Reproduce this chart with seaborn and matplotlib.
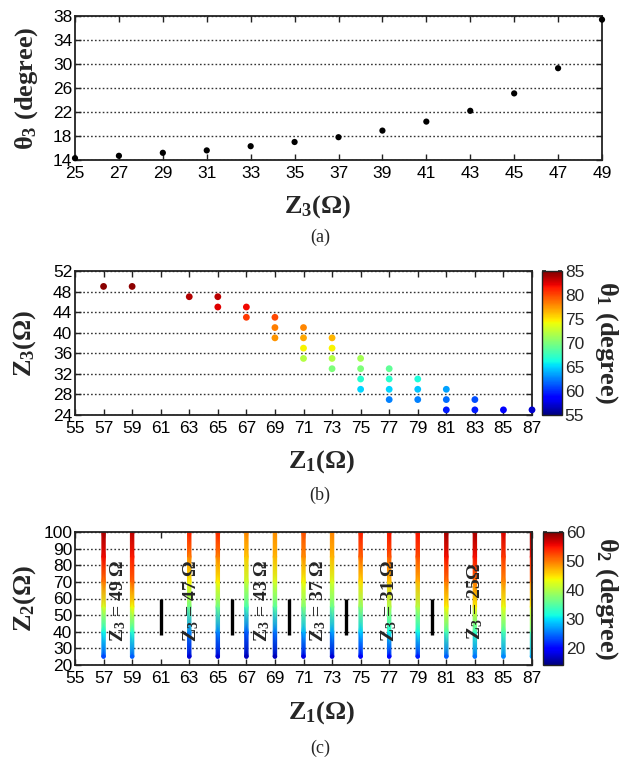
import numpy as np
import pandas as pd
import matplotlib
matplotlib.use("Agg")
import matplotlib.pyplot as plt
import seaborn as sns
from matplotlib.colors import Normalize
from matplotlib.cm import ScalarMappable

# ---------------- data ----------------
# panel (a)
z3_a = [25, 27, 29, 31, 33, 35, 37, 39, 41, 43, 45, 47, 49]
theta3_a = [14.3, 14.7, 15.2, 15.6, 16.3, 17.0, 17.8, 18.9, 20.4, 22.2, 25.1, 29.3, 37.4]

# panel (b)
z1_b = [57, 59, 63, 65, 65, 67, 67, 69, 69, 69, 71, 71, 71, 71, 73, 73, 73, 73,
        75, 75, 75, 75, 77, 77, 77, 77, 79, 79, 79, 81, 81, 81, 83, 83, 85, 87]
z3_b = [49, 49, 47, 47, 45, 45, 43, 43, 41, 39, 41, 39, 37, 35, 39, 37, 35, 33,
        35, 33, 31, 29, 33, 31, 29, 27, 31, 29, 27, 29, 27, 25, 27, 25, 25, 25]
theta1_b = [84.7, 84.6, 83.6, 83.4, 82.5, 82.0, 80.5, 80.0, 78.3, 77.5, 78.0, 77.0, 74.5, 72.0,
            76.5, 74.5, 72.0, 70.0, 71.5, 70.0, 67.0, 65.0, 69.0, 67.0, 65.0, 62.5,
            66.5, 64.5, 62.5, 63.5, 62.0, 59.5, 61.0, 59.5, 58.5, 57.0]

# panel (c)
z1_c = [57, 59, 63, 65, 67, 69, 71, 73, 75, 77, 79, 81, 83, 85, 87]
z2_c = [25, 40, 55, 70, 85, 100]
theta2_c = [
    [23.0, 31.0, 42.0, 50.0, 55.5, 58.5],   # 57
    [24.0, 32.5, 43.5, 51.0, 54.5, 57.5],   # 59
    [17.5, 26.0, 36.0, 44.0, 49.5, 54.5],   # 63
    [17.5, 26.0, 36.0, 44.0, 49.5, 54.0],   # 65
    [16.5, 24.0, 34.0, 41.0, 46.0, 49.5],   # 67
    [16.5, 25.0, 35.0, 42.0, 47.0, 49.0],   # 69
    [18.0, 28.0, 37.0, 43.5, 49.0, 52.0],   # 71
    [17.5, 27.0, 36.0, 42.0, 47.0, 49.5],   # 73
    [19.0, 29.0, 38.0, 45.0, 51.0, 54.5],   # 75
    [20.0, 31.0, 39.5, 46.0, 51.5, 55.0],   # 77
    [21.0, 31.0, 40.0, 47.0, 52.0, 55.0],   # 79
    [24.0, 34.0, 44.0, 50.0, 55.0, 58.7],   # 81
    [25.0, 33.0, 44.0, 50.0, 55.0, 58.4],   # 83
    [26.0, 34.0, 43.0, 49.0, 53.0, 56.5],   # 85
    [27.0, 35.0, 44.0, 50.0, 55.0, 60.0],   # 87
]
z3_group_labels = ["Z$_\\mathbf{3}$ = 49 Ω", "Z$_\\mathbf{3}$ = 47 Ω", "Z$_\\mathbf{3}$ = 43 Ω",
                   "Z$_\\mathbf{3}$ = 37 Ω", "Z$_\\mathbf{3}$ = 31 Ω", "Z$_\\mathbf{3}$ = 25Ω"]
separator_z1 = [61, 66, 70, 74, 80]

# ---------------- style ----------------
sns.set_theme(style="ticks")
plt.rcParams.update({
    "font.family": ["Liberation Sans", "DejaVu Sans"],
    "mathtext.fontset": "custom",
    "mathtext.rm": "Liberation Serif:bold",
    "mathtext.bf": "Liberation Serif:bold",
    "mathtext.it": "Liberation Serif:bold:italic",
    "axes.edgecolor": "#222222",
    "axes.linewidth": 1.2,
})
JET = matplotlib.colormaps["jet"]
SERIF = ["Liberation Serif", "DejaVu Serif"]
LAB = dict(family=SERIF, fontweight="bold", fontsize=19)
TICK_FS = 12.5

W, H = 626, 763
fig = plt.figure(figsize=(W / 100, H / 100), dpi=100)


def px_axes(l, t, r, b):
    return fig.add_axes([l / W, 1 - b / H, (r - l) / W, (b - t) / H])


def style_ax(ax):
    ax.tick_params(direction="in", top=True, right=True, length=4, width=1,
                   labelsize=TICK_FS, colors="#222222", labelcolor="black")
    ax.tick_params(axis="x", pad=4.5)
    ax.tick_params(axis="y", pad=2)
    ax.yaxis.grid(True, linestyle=(0, (1.2, 1.6)), color="#333333", linewidth=1.0)
    ax.xaxis.grid(False)
    ax.set_axisbelow(True)
    for s in ax.spines.values():
        s.set_visible(True)
        s.set_linewidth(1.3)


def style_cbar(cb):
    cb.ax.tick_params(direction="in", length=3, labelsize=TICK_FS, pad=2,
                      left=True, right=True)
    cb.outline.set_linewidth(1.0)


# ---------------- panel (a) ----------------
axa = px_axes(75, 16, 602, 160)
dfa = pd.DataFrame({"z3": z3_a, "theta3": theta3_a})
sns.scatterplot(data=dfa, x="z3", y="theta3", ax=axa, color="black", s=20,
                edgecolor="none", clip_on=False, zorder=3)
axa.set_xlim(25, 49)
axa.set_ylim(14, 38)
axa.set_xticks(range(25, 50, 2))
axa.set_yticks(range(14, 39, 4))
style_ax(axa)
axa.set_xlabel("Z$_\\mathbf{3}$(Ω)", **LAB)
axa.set_ylabel("θ$_\\mathbf{3}$ (degree)", **LAB)
axa.xaxis.set_label_coords(0.46, -0.23)
axa.yaxis.set_label_coords(-0.066, 0.5)
fig.text(320 / W, 1 - 237 / H, "(a)", family=SERIF, fontsize=13, ha="center", va="center")

# ---------------- panel (b) ----------------
axb = px_axes(75, 271, 532, 415)
normb = Normalize(55, 85)
dfb = pd.DataFrame({"z1": z1_b, "z3": z3_b, "theta1": theta1_b})
sns.scatterplot(data=dfb, x="z1", y="z3", hue="theta1", palette=JET, hue_norm=normb,
                ax=axb, s=24, edgecolor="none", legend=False, clip_on=False, zorder=3)
axb.set_xlim(55, 87)
axb.set_ylim(24, 52)
axb.set_xticks(range(55, 88, 2))
axb.set_yticks(range(24, 53, 4))
style_ax(axb)
axb.set_xlabel("Z$_\\mathbf{1}$(Ω)", **LAB)
axb.set_ylabel("Z$_\\mathbf{3}$(Ω)", **LAB)
axb.xaxis.set_label_coords(0.54, -0.23)
axb.yaxis.set_label_coords(-0.08, 0.5)
caxb = px_axes(542, 271, 562, 415)
cbb = fig.colorbar(ScalarMappable(norm=normb, cmap=JET), cax=caxb, ticks=range(55, 86, 5))
style_cbar(cbb)
cbb.set_label("θ$_\\mathbf{1}$ (degree)", rotation=270, va="bottom", labelpad=6, **LAB)
fig.text(320 / W, 1 - 495 / H, "(b)", family=SERIF, fontsize=13, ha="center", va="center")

# ---------------- panel (c) ----------------
axc = px_axes(75, 532, 532, 665)
normc = Normalize(14, 60)
hw = 0.12
for z1, th in zip(z1_c, theta2_c):
    X = np.array([[z1 - hw, z1 + hw]] * len(z2_c))
    Y = np.column_stack([z2_c, z2_c])
    C = np.column_stack([th, th])
    axc.pcolormesh(X, Y, C, shading="gouraud", cmap=JET, norm=normc, zorder=2,
                   antialiased=False)
dfc_end = pd.DataFrame({"z1": z1_c, "z2": [z2_c[0]] * len(z1_c),
                        "theta2": [t[0] for t in theta2_c]})
sns.scatterplot(data=dfc_end, x="z1", y="z2", hue="theta2", palette=JET, hue_norm=normc,
                ax=axc, s=10, edgecolor="none", legend=False, zorder=2)
for xs in separator_z1:
    axc.plot([xs, xs], [38, 60], color="black", lw=2.4, solid_capstyle="butt", zorder=3)
label_x = [58.0, 63.1, 68.1, 72.0, 77.0, 83.0]
for xl, txt in zip(label_x, z3_group_labels):
    axc.text(xl, 58.5, txt, rotation=90, ha="center", va="center", family=SERIF,
             fontweight="bold", fontsize=14, zorder=4)
axc.set_xlim(55, 87)
axc.set_ylim(20, 100)
axc.set_xticks(range(55, 88, 2))
axc.set_yticks(range(20, 101, 10))
style_ax(axc)
axc.set_xlabel("Z$_\\mathbf{1}$(Ω)", **LAB)
axc.set_ylabel("Z$_\\mathbf{2}$(Ω)", **LAB)
axc.xaxis.set_label_coords(0.54, -0.26)
axc.yaxis.set_label_coords(-0.08, 0.5)
caxc = px_axes(543, 532, 563, 665)
cbc = fig.colorbar(ScalarMappable(norm=normc, cmap=JET), cax=caxc, ticks=range(20, 61, 10))
style_cbar(cbc)
cbc.set_label("θ$_\\mathbf{2}$ (degree)", rotation=270, va="bottom", labelpad=6, **LAB)
fig.text(320 / W, 1 - 748 / H, "(c)", family=SERIF, fontsize=13, ha="center", va="center")

fig.savefig("out.png", dpi=100, facecolor="white")
